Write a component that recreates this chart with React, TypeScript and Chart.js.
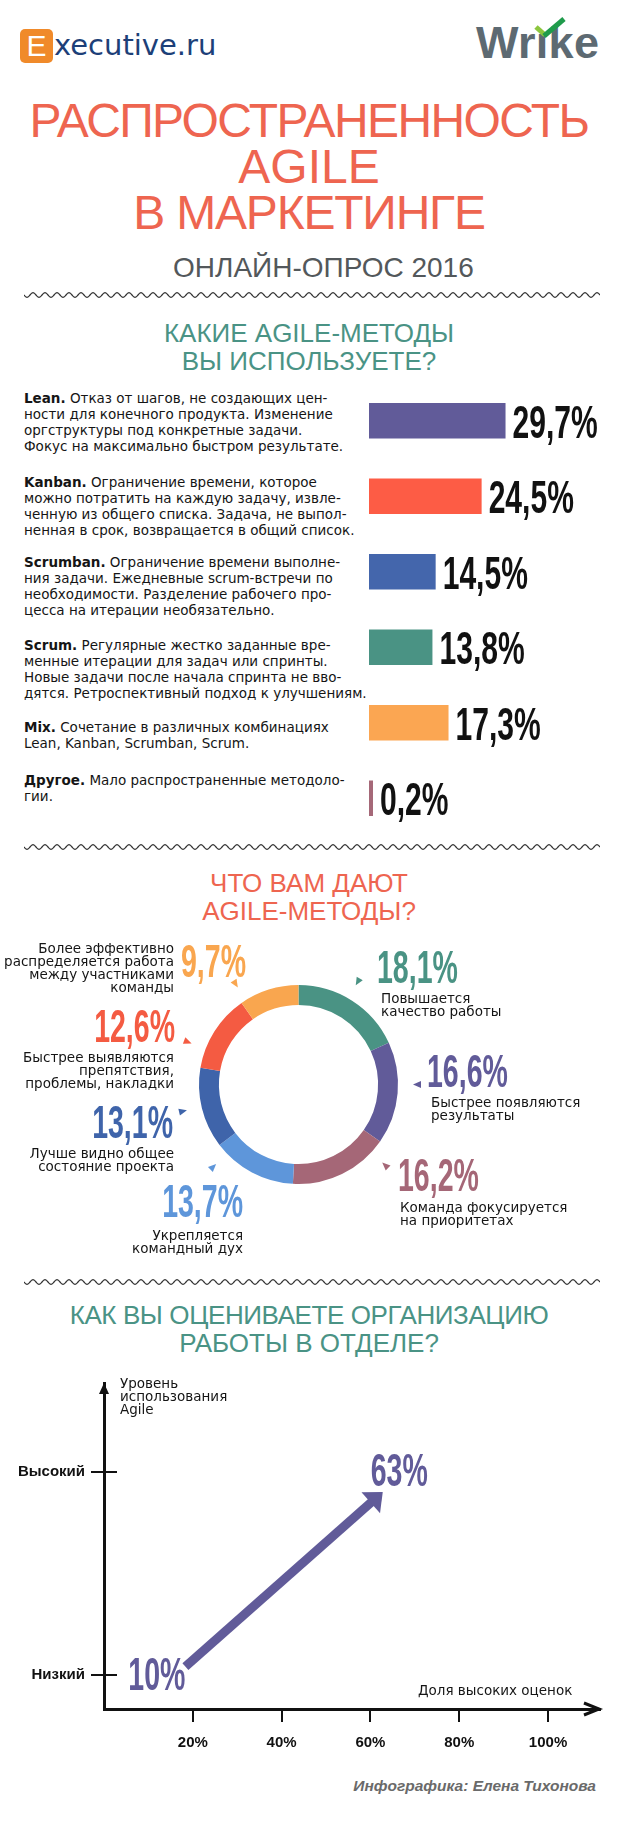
import React, { useEffect, useRef } from 'react';
import { Chart, registerables } from 'chart.js';

Chart.register(...registerables);

// ---------- DATA ----------
const methodNames = ['Lean', 'Kanban', 'Scrumban', 'Scrum', 'Mix', 'Другое'];
const methodShares = [29.7, 24.5, 14.5, 13.8, 17.3, 0.2];
const methodDescriptions = [
  ['Отказ от шагов, не создающих цен-', 'ности для конечного продукта. Изменение', 'оргструктуры под конкретные задачи.', 'Фокус на максимально быстром результате.'],
  ['Ограничение времени, которое', 'можно потратить на каждую задачу, извле-', 'ченную из общего списка. Задача, не выпол-', 'ненная в срок, возвращается в общий список.'],
  ['Ограничение времени выполне-', 'ния задачи. Ежедневные scrum-встречи по', 'необходимости. Разделение рабочего про-', 'цесса на итерации необязательно.'],
  ['Регулярные жестко заданные вре-', 'менные итерации для задач или спринты.', 'Новые задачи после начала спринта не вво-', 'дятся. Ретроспективный подход к улучшениям.'],
  ['Сочетание в различных комбинациях', 'Lean, Kanban, Scrumban, Scrum.'],
  ['Мало распространенные методоло-', 'гии.'],
];

const benefitLabels = [
  ['Повышается', 'качество работы'],
  ['Быстрее появляются', 'результаты'],
  ['Команда фокусируется', 'на приоритетах'],
  ['Укрепляется', 'командный дух'],
  ['Лучше видно общее', 'состояние проекта'],
  ['Быстрее выявляются', 'препятствия,', 'проблемы, накладки'],
  ['Более эффективно', 'распределяется работа', 'между участниками', 'команды'],
];
const benefitShares = [18.1, 16.6, 16.2, 13.7, 13.1, 12.6, 9.7];

const levelLabels = ['Низкий', 'Высокий'];
const highRatingShares = [10, 63];
const shareTicks = [20, 40, 60, 80, 100];

// ---------- STYLE ----------
const SANS = '"Liberation Sans", Arial, Helvetica, sans-serif';
const DEJAVU = '"DejaVu Sans", Verdana, sans-serif';
const CORAL = '#ee6550';
const TEAL = '#4a9385';
const PURPLE = '#615b99';

const methodColors = ['#615b99', '#fd5c45', '#4466ac', '#4a9384', '#fba652', '#a56878'];
const benefitColors = ['#4a9384', '#615b99', '#a56777', '#5e96da', '#3f64aa', '#f45b42', '#f9a64f'];

const descTops = [390, 474, 554, 637, 719, 772];

type Align = 'left' | 'right';
const benefitLayout: { pointer: number; pct: { x: number; y: number; align: Align }; text: { x: number; y: number; align: Align } }[] = [
  { pointer: 30, pct: { x: 377, y: 983, align: 'left' }, text: { x: 381, y: 992, align: 'left' } },
  { pointer: 90, pct: { x: 427, y: 1087, align: 'left' }, text: { x: 431, y: 1096, align: 'left' } },
  { pointer: 133, pct: { x: 398, y: 1191, align: 'left' }, text: { x: 400, y: 1201, align: 'left' } },
  { pointer: 226, pct: { x: 243, y: 1217, align: 'right' }, text: { x: 243, y: 1229, align: 'right' } },
  { pointer: 257, pct: { x: 173, y: 1138, align: 'right' }, text: { x: 174, y: 1147, align: 'right' } },
  { pointer: 291, pct: { x: 175, y: 1042, align: 'right' }, text: { x: 174, y: 1051, align: 'right' } },
  { pointer: 328, pct: { x: 181, y: 977, align: 'left' }, text: { x: 174, y: 942, align: 'right' } },
];

const PAGE_W = 620;
const PAGE_H = 1827;

function fmtPct(v: number) {
  return v.toFixed(1).replace('.', ',') + '%';
}

function drawCondensed(
  ctx: CanvasRenderingContext2D,
  text: string,
  x: number,
  baseline: number,
  size: number,
  scale: number,
  color: string,
  align: 'left' | 'right' | 'center' = 'left'
) {
  ctx.save();
  ctx.font = `bold ${size}px ${SANS}`;
  ctx.fillStyle = color;
  ctx.textBaseline = 'alphabetic';
  ctx.textAlign = 'left';
  const w = ctx.measureText(text).width * scale;
  const left = align === 'right' ? x - w : align === 'center' ? x - w / 2 : x;
  ctx.translate(left, baseline);
  ctx.scale(scale, 1);
  ctx.fillText(text, 0, 0);
  ctx.restore();
}

// ---------- BAR CHART ----------
const BAR_BOX = { left: 369, top: 383, width: 251, height: 453 };

function MethodsBars() {
  const ref = useRef<HTMLCanvasElement>(null);
  useEffect(() => {
    const valueLabels = {
      id: 'valueLabels',
      afterDatasetsDraw(chart: any) {
        const meta = chart.getDatasetMeta(0);
        const ctx = chart.ctx;
        meta.data.forEach((bar: any, i: number) => {
          drawCondensed(ctx, fmtPct(methodShares[i]), bar.x + 7, bar.y + 17, 47, 0.64, '#111');
        });
      },
    };
    const chart = new Chart(ref.current as HTMLCanvasElement, {
      type: 'bar',
      data: {
        labels: methodNames,
        datasets: [
          {
            data: methodShares,
            backgroundColor: methodColors,
            borderWidth: 0,
            barPercentage: 0.47,
            categoryPercentage: 1,
            minBarLength: 4,
          },
        ],
      },
      options: {
        indexAxis: 'y',
        responsive: false,
        maintainAspectRatio: false,
        animation: false,
        layout: { padding: 0 },
        plugins: { legend: { display: false }, tooltip: { enabled: false } },
        scales: {
          x: { display: false, min: 0, max: 54.6 },
          y: { display: false },
        },
      },
      plugins: [valueLabels],
    } as any);
    return () => chart.destroy();
  }, []);
  return (
    <canvas
      ref={ref}
      width={BAR_BOX.width}
      height={BAR_BOX.height}
      style={{ position: 'absolute', left: BAR_BOX.left, top: BAR_BOX.top, width: BAR_BOX.width, height: BAR_BOX.height }}
    />
  );
}

// ---------- DOUGHNUT ----------
const DONUT_BOX = { left: 0, top: 930, width: 620, height: 330 };
const DONUT_PAD = { left: 199, right: 222, top: 55, bottom: 76 };

function BenefitsDonut() {
  const ref = useRef<HTMLCanvasElement>(null);
  useEffect(() => {
    const donutLabels = {
      id: 'donutLabels',
      afterDatasetsDraw(chart: any) {
        const meta = chart.getDatasetMeta(0);
        const arc = meta.data[0];
        const cx = arc.x;
        const cy = arc.y;
        const ctx = chart.ctx;
        benefitShares.forEach((v, i) => {
          const lay = benefitLayout[i];
          const a = (lay.pointer * Math.PI) / 180;
          const R = arc.outerRadius + 19;
          const ux = Math.sin(a);
          const uy = -Math.cos(a);
          const px = cx + ux * R;
          const py = cy + uy * R;
          ctx.save();
          ctx.fillStyle = benefitColors[i];
          ctx.beginPath();
          ctx.moveTo(px - ux * 4, py - uy * 4);
          ctx.lineTo(px + ux * 4 - uy * 3.5, py + uy * 4 + ux * 3.5);
          ctx.lineTo(px + ux * 4 + uy * 3.5, py + uy * 4 - ux * 3.5);
          ctx.closePath();
          ctx.fill();
          ctx.restore();
          drawCondensed(
            ctx,
            fmtPct(v),
            lay.pct.x - DONUT_BOX.left,
            lay.pct.y - DONUT_BOX.top,
            46,
            0.62,
            benefitColors[i],
            lay.pct.align
          );
        });
      },
    };
    const chart = new Chart(ref.current as HTMLCanvasElement, {
      type: 'doughnut',
      data: {
        labels: benefitLabels.map((l) => l.join(' ')),
        datasets: [{ data: benefitShares, backgroundColor: benefitColors, borderWidth: 0 }],
      },
      options: {
        responsive: false,
        maintainAspectRatio: false,
        animation: false,
        cutout: '80%',
        layout: { padding: DONUT_PAD },
        plugins: { legend: { display: false }, tooltip: { enabled: false } },
      },
      plugins: [donutLabels],
    } as any);
    return () => chart.destroy();
  }, []);
  return (
    <canvas
      ref={ref}
      width={DONUT_BOX.width}
      height={DONUT_BOX.height}
      style={{ position: 'absolute', left: DONUT_BOX.left, top: DONUT_BOX.top, width: DONUT_BOX.width, height: DONUT_BOX.height }}
    />
  );
}

// ---------- ARROW CHART ----------
const ARROW_BOX = { left: 0, top: 1355, width: 620, height: 420 };
const arrowStyle = {
  startOffset: [37, -8],
  endOffset: [-1, 20],
  shaftWidth: 9,
  headLen: 16,
  headHalf: 14,
  labelOffsets: [
    [8.5, -1.5],
    [15.5, -2.5],
  ],
};

function RatingChart() {
  const ref = useRef<HTMLCanvasElement>(null);
  useEffect(() => {
    const arrowPlugin = {
      id: 'arrowPlugin',
      afterDraw(chart: any) {
        const ctx = chart.ctx as CanvasRenderingContext2D;
        const xs = chart.scales.x;
        const ys = chart.scales.y;
        const area = chart.chartArea;
        ctx.save();
        ctx.strokeStyle = '#111';
        ctx.fillStyle = '#111';
        ctx.lineWidth = 2;
        shareTicks.forEach((v) => {
          const px = Math.round(xs.getPixelForValue(v));
          ctx.beginPath();
          ctx.moveTo(px, area.bottom);
          ctx.lineTo(px, area.bottom + 13);
          ctx.stroke();
        });
        levelLabels.forEach((_, i) => {
          const py = Math.round(ys.getPixelForValue(i));
          ctx.beginPath();
          ctx.moveTo(area.left - 13, py);
          ctx.lineTo(area.left + 13, py);
          ctx.stroke();
        });
        ctx.lineWidth = 3;
        ctx.lineJoin = 'miter';
        ctx.beginPath();
        ctx.moveTo(area.right - 16, area.bottom - 6);
        ctx.lineTo(area.right - 1, area.bottom);
        ctx.lineTo(area.right - 16, area.bottom + 6);
        ctx.stroke();
        ctx.beginPath();
        ctx.moveTo(area.left - 5, area.top + 11);
        ctx.lineTo(area.left, area.top);
        ctx.lineTo(area.left + 5, area.top + 11);
        ctx.closePath();
        ctx.fill();
        ctx.restore();

        const meta = chart.getDatasetMeta(0);
        const a = meta.data[0];
        const b = meta.data[1];
        const sx = a.x + arrowStyle.startOffset[0];
        const sy = a.y + arrowStyle.startOffset[1];
        const ex = b.x + arrowStyle.endOffset[0];
        const ey = b.y + arrowStyle.endOffset[1];
        const len = Math.hypot(ex - sx, ey - sy);
        const ux = (ex - sx) / len;
        const uy = (ey - sy) / len;
        ctx.save();
        ctx.strokeStyle = PURPLE;
        ctx.fillStyle = PURPLE;
        ctx.lineWidth = arrowStyle.shaftWidth;
        ctx.lineCap = 'butt';
        ctx.beginPath();
        ctx.moveTo(sx, sy);
        ctx.lineTo(ex - ux * arrowStyle.headLen * 0.9, ey - uy * arrowStyle.headLen * 0.9);
        ctx.stroke();
        const bx = ex - ux * arrowStyle.headLen;
        const by = ey - uy * arrowStyle.headLen;
        ctx.beginPath();
        ctx.moveTo(ex, ey);
        ctx.lineTo(bx - uy * arrowStyle.headHalf, by + ux * arrowStyle.headHalf);
        ctx.lineTo(bx + uy * arrowStyle.headHalf, by - ux * arrowStyle.headHalf);
        ctx.closePath();
        ctx.fill();
        ctx.restore();

        [a, b].forEach((pt: any, i: number) => {
          const off = arrowStyle.labelOffsets[i];
          drawCondensed(ctx, highRatingShares[i] + '%', pt.x + off[0], pt.y + off[1] + 16.5, 46, 0.62, PURPLE, 'center');
        });
      },
    };
    const tickFont = { family: SANS, size: 15, weight: 'bold' as const };
    const chart = new Chart(ref.current as HTMLCanvasElement, {
      type: 'scatter',
      data: {
        datasets: [
          {
            data: highRatingShares.map((v, i) => ({ x: v, y: i })),
            showLine: false,
            pointRadius: 0,
            borderColor: PURPLE,
            backgroundColor: PURPLE,
          },
        ],
      },
      options: {
        responsive: false,
        maintainAspectRatio: false,
        animation: false,
        layout: { padding: { top: 13, right: 20, left: 0, bottom: 0 } },
        plugins: { legend: { display: false }, tooltip: { enabled: false } },
        scales: {
          x: {
            type: 'linear',
            min: 0,
            max: 111.7,
            grid: { display: false, drawTicks: false },
            border: { display: true, color: '#111', width: 3 },
            afterBuildTicks: (s: any) => {
              s.ticks = shareTicks.map((v) => ({ value: v }));
            },
            afterFit: (s: any) => {
              s.height = 66;
            },
            ticks: {
              callback: (v: any) => v + '%',
              font: tickFont,
              color: '#111',
              padding: 25,
              maxRotation: 0,
              autoSkip: false,
            },
          },
          y: {
            type: 'linear',
            min: -0.17,
            max: 1.44,
            grid: { display: false, drawTicks: false },
            border: { display: true, color: '#111', width: 3 },
            afterBuildTicks: (s: any) => {
              s.ticks = levelLabels.map((_, i) => ({ value: i }));
            },
            afterFit: (s: any) => {
              s.width = 104;
            },
            ticks: {
              callback: (v: any) => levelLabels[v as number],
              font: tickFont,
              color: '#111',
              padding: 19,
              autoSkip: false,
            },
          },
        },
      },
      plugins: [arrowPlugin],
    } as any);
    return () => chart.destroy();
  }, []);
  return (
    <canvas
      ref={ref}
      width={ARROW_BOX.width}
      height={ARROW_BOX.height}
      style={{ position: 'absolute', left: ARROW_BOX.left, top: ARROW_BOX.top, width: ARROW_BOX.width, height: ARROW_BOX.height }}
    />
  );
}

// ---------- DECORATION ----------
function Wave({ y }: { y: number }) {
  const w = 576;
  let d = '';
  for (let x = 0; x <= w; x += 1) {
    const yy = 5 + 2.4 * Math.sin((2 * Math.PI * x) / 12);
    d += (x === 0 ? 'M' : 'L') + x + ' ' + yy.toFixed(2) + ' ';
  }
  return (
    <svg width={w} height={10} style={{ position: 'absolute', left: 24, top: y - 5 }}>
      <path d={d} fill="none" stroke="#333" strokeWidth={1.2} />
    </svg>
  );
}

const abs = (left: number, top: number, extra: React.CSSProperties = {}): React.CSSProperties => ({
  position: 'absolute',
  left,
  top,
  whiteSpace: 'pre',
  ...extra,
});

function CenterLines({ lines, top, size, lh, color, spacing = 0 }: { lines: string[]; top: number; size: number; lh: number; color: string; spacing?: number | number[] }) {
  return (
    <div style={{ position: 'absolute', left: 0, width: 618, top, textAlign: 'center', font: `${size}px/${lh}px ${SANS}`, color }}>
      {lines.map((l, i) => (
        <div key={i} style={{ letterSpacing: Array.isArray(spacing) ? spacing[i] : spacing, whiteSpace: 'pre' }}>
          {l}
        </div>
      ))}
    </div>
  );
}

export default function App() {
  return (
    <div style={{ position: 'absolute', left: 0, top: 0, width: PAGE_W, height: PAGE_H, background: '#fff', overflow: 'hidden' }}>
      {/* Executive.ru logo */}
      <div style={{ position: 'absolute', left: 20, top: 29, width: 33, height: 34, background: '#f08a2a', borderRadius: 5 }} />
      <div style={abs(20, 29, { width: 33, textAlign: 'center', font: `30px/34px ${SANS}`, color: '#fff' })}>E</div>
      <div style={abs(54, 28, { font: `29px/34px ${DEJAVU}`, color: '#1d3f78' })}>xecutive.ru</div>

      {/* Wrike logo */}
      <div style={abs(476, 17, { font: `bold 45px/52px ${SANS}`, color: '#5d6a72', letterSpacing: 0.3 })}>Wrıke</div>
      <svg width={40} height={30} style={{ position: 'absolute', left: 531, top: 14 }}>
        <polyline points="5,13 14,21" fill="none" stroke="#8cc63e" strokeWidth={5} />
        <polyline points="13,22 33,5" fill="none" stroke="#1f9b4b" strokeWidth={5} />
      </svg>

      {/* Main title */}
      <CenterLines lines={['РАСПРОСТРАНЕННОСТЬ', 'AGILE', 'В МАРКЕТИНГЕ']} top={98} size={48} lh={46} color={CORAL} spacing={[-1.6, 0, -1.2]} />
      <div style={abs(173, 253, { font: `28px/30px ${SANS}`, color: '#53585b' })}>ОНЛАЙН-ОПРОС 2016</div>

      <Wave y={295} />

      {/* Section 1 */}
      <CenterLines lines={['КАКИЕ AGILE-МЕТОДЫ', 'ВЫ ИСПОЛЬЗУЕТЕ?']} top={319} size={26} lh={28} color={TEAL} />
      {methodNames.map((name, i) => (
        <div key={name} style={abs(24, descTops[i], { font: `13.5px/16px ${DEJAVU}`, color: '#151515' })}>
          {methodDescriptions[i].map((line, j) => (
            <div key={j}>
              {j === 0 ? <b>{name + '.'}</b> : null}
              {j === 0 ? ' ' + line : line}
            </div>
          ))}
        </div>
      ))}
      <MethodsBars />

      <Wave y={847} />

      {/* Section 2 */}
      <CenterLines lines={['ЧТО ВАМ ДАЮТ', 'AGILE-МЕТОДЫ?']} top={869} size={26} lh={28} color={CORAL} />
      <BenefitsDonut />
      {benefitLabels.map((lines, i) => {
        const t = benefitLayout[i].text;
        const style: React.CSSProperties =
          t.align === 'left'
            ? { position: 'absolute', left: t.x, top: t.y, textAlign: 'left' }
            : { position: 'absolute', right: PAGE_W - t.x, top: t.y, textAlign: 'right' };
        return (
          <div key={i} style={{ ...style, font: `13.5px/13px ${DEJAVU}`, color: '#151515', whiteSpace: 'pre' }}>
            {lines.map((l, j) => (
              <div key={j}>{l}</div>
            ))}
          </div>
        );
      })}

      <Wave y={1282} />

      {/* Section 3 */}
      <CenterLines lines={['КАК ВЫ ОЦЕНИВАЕТЕ ОРГАНИЗАЦИЮ', 'РАБОТЫ В ОТДЕЛЕ?']} top={1301} size={26} lh={28} color={TEAL} spacing={[-0.4, 0]} />
      <RatingChart />
      <div style={abs(120, 1377, { font: `13.5px/13px ${DEJAVU}`, color: '#151515' })}>
        <div>Уровень</div>
        <div>использования</div>
        <div>Agile</div>
      </div>
      <div style={abs(418, 1684, { font: `13.5px/13px ${DEJAVU}`, color: '#151515' })}>Доля высоких оценок</div>

      <div style={{ position: 'absolute', right: PAGE_W - 596, top: 1777, font: `italic bold 15.5px/18px ${SANS}`, color: '#6a6a6a', whiteSpace: 'pre' }}>
        Инфографика: Елена Тихонова
      </div>
    </div>
  );
}
